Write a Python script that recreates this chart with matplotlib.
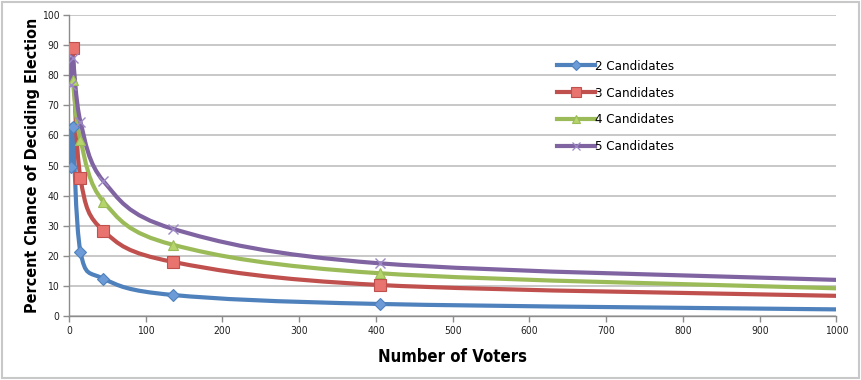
import numpy as np
import matplotlib
matplotlib.use("Agg")
import matplotlib.pyplot as plt
from matplotlib.path import Path
from matplotlib.patches import PathPatch, Rectangle
from matplotlib.lines import Line2D

# ---- data ----
voters = [3, 5, 15, 45, 135, 405, 1000]
marker_count = 6  # markers shown for the first six points only
cand2 = [49.5, 62.8, 21.3, 12.4, 7.0, 4.0, 2.2]
cand3 = [np.nan, 88.9, 45.8, 28.3, 18.0, 10.3, 6.7]
cand4 = [np.nan, 78.3, 58.4, 38.0, 23.7, 14.2, 9.2]
cand5 = [76.8, 85.6, 64.5, 44.8, 29.0, 17.5, 12.0]
series_labels = ["2 Candidates", "3 Candidates", "4 Candidates", "5 Candidates"]
x_ticks = [0, 100, 200, 300, 400, 500, 600, 700, 800, 900, 1000]
y_ticks = [0, 10, 20, 30, 40, 50, 60, 70, 80, 90, 100]

plt.rcParams["font.family"] = "DejaVu Sans"

line_colors = ["#4F81BD", "#C0504D", "#9BBB59", "#8064A2"]
face_colors = ["#6C9BD8", "#E8736F", "#B5D46C", "#9A82C0"]
markers = ["D", "s", "^", "x"]
msizes = [6.5, 8, 7.5, 7]

fig = plt.figure(figsize=(8.62, 3.8), dpi=100)
ax = fig.add_axes([0.080, 0.1684, 0.8904, 0.7921])

def smooth_path(xs, ys):
    pts = np.column_stack([xs, ys]).astype(float)
    pts = pts[~np.isnan(pts[:, 1])]
    n = len(pts)
    verts = [pts[0]]
    codes = [Path.MOVETO]
    for i in range(n - 1):
        p0 = pts[i - 1] if i > 0 else pts[i]
        p1 = pts[i]
        p2 = pts[i + 1]
        p3 = pts[i + 2] if i + 2 < n else pts[i + 1]
        c1 = p1 + (p2 - p0) / 6.0
        c2 = p2 - (p3 - p1) / 6.0
        verts += [c1, c2, p2]
        codes += [Path.CURVE4] * 3
    return Path(verts, codes)

all_series = [cand2, cand3, cand4, cand5]
handles = []
for k, ys in enumerate(all_series):
    patch = PathPatch(smooth_path(voters, ys), facecolor="none",
                      edgecolor=line_colors[k], lw=3.0, transform=ax.transData,
                      zorder=3 + k, capstyle="round", joinstyle="round")
    ax.add_patch(patch)
    if markers[k] == "x":
        ax.plot(voters[:marker_count], ys[:marker_count], linestyle="none",
                marker="x", ms=msizes[k], mew=1.0, color="#9C88C4", zorder=10 + k)
        h = Line2D([], [], color=line_colors[k], lw=3.0, marker="x",
                   ms=msizes[k] * 0.85, mec="#9C88C4", mew=0.9)
    else:
        ax.plot(voters[:marker_count], ys[:marker_count], linestyle="none",
                marker=markers[k], ms=msizes[k], mfc=face_colors[k],
                mec=line_colors[k], mew=0.8, zorder=10 + k)
        h = Line2D([], [], color=line_colors[k], lw=3.0, marker=markers[k],
                   ms=msizes[k] * 0.85, mfc=face_colors[k], mec=line_colors[k],
                   mew=0.8)
    handles.append(h)

ax.set_xlim(0, 1000)
ax.set_ylim(0, 100)
ax.set_xticks(x_ticks)
ax.set_yticks(y_ticks)
ax.set_xticklabels([str(t) for t in x_ticks], fontsize=7.5, fontstretch="condensed")
ax.set_yticklabels([str(t) for t in y_ticks], fontsize=7.5, fontstretch="condensed")
ax.tick_params(axis="both", direction="out", length=4, width=1, color="#8c8c8c",
               labelcolor="#222222", pad=3)
ax.grid(axis="y", color="#c4c4c4", lw=1.3, zorder=0)
ax.set_axisbelow(True)
for s in ["top", "right"]:
    ax.spines[s].set_visible(False)
for s in ["left", "bottom"]:
    ax.spines[s].set_color("#8c8c8c")
    ax.spines[s].set_linewidth(1.0)

ax.set_xlabel("Number of Voters", fontweight="bold", fontsize=12,
              fontstretch="condensed", labelpad=9)
ax.set_ylabel("Percent Chance of Deciding Election", fontweight="bold",
              fontsize=11.5, fontstretch="condensed", labelpad=1)

leg = ax.legend(handles, series_labels, loc="center left",
                bbox_to_anchor=(0.62, 0.696), frameon=False, handlelength=2.9,
                handletextpad=0.0, labelspacing=1.05, numpoints=1,
                prop={"size": 9.5, "stretch": "condensed"})

fig.patches.append(Rectangle((0.002, 0.005), 0.994, 0.99, transform=fig.transFigure,
                             fill=False, edgecolor="#c8c8c8", lw=1.5))

fig.savefig("out.png", dpi=100)
